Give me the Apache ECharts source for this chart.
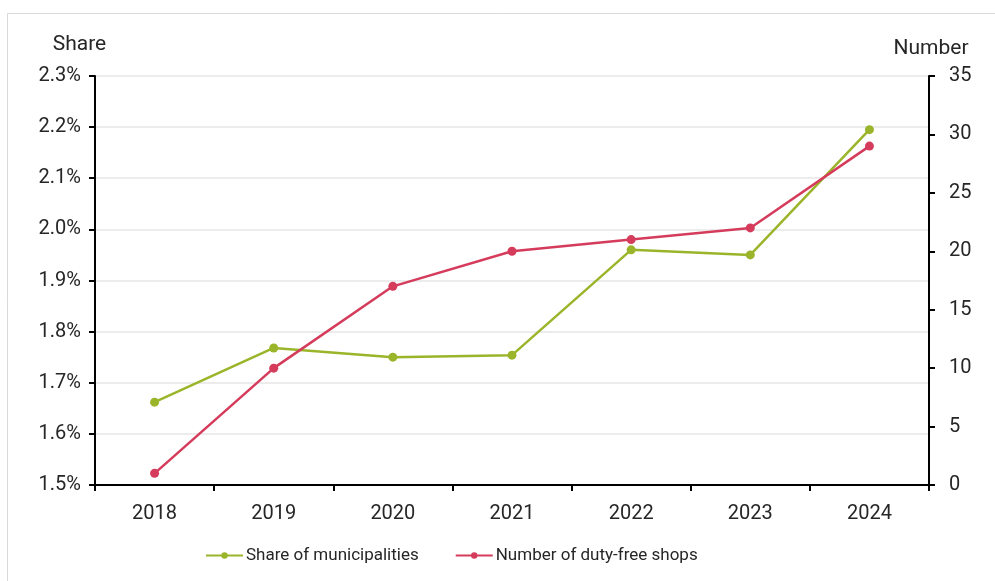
<!DOCTYPE html>
<html>
<head>
<meta charset="utf-8">
<script src="https://cdn.jsdelivr.net/npm/echarts@6/dist/echarts.min.js"></script>
<style>
html,body{margin:0;padding:0;background:#fff;}
#chart{width:995px;height:581px;}
</style>
</head>
<body>
<div id="chart"></div>
<script>
const years = ['2018','2019','2020','2021','2022','2023','2024'];
const shareValues = [1.662, 1.768, 1.750, 1.754, 1.960, 1.950, 2.195];
const shopValues = [1, 10, 17, 20, 21, 22, 29];
const shareName = 'Share of municipalities';
const shopName = 'Number of duty-free shops';

const green = '#9bb52a';
const red = '#d53c5c';
const font = 'Roboto';
const textColor = '#262626';

const chart = echarts.init(document.getElementById('chart'), null, {renderer: 'canvas'});
chart.setOption({
  animation: false,
  backgroundColor: '#fff',
  textStyle: {fontFamily: font},
  graphic: [{
    type: 'polyline',
    shape: {points: [[7.5, 581], [7.5, 13.5], [995, 13.5]]},
    style: {stroke: '#d9d9d9', lineWidth: 1, fill: null},
    silent: true
  }],
  grid: {left: 95, right: 66, top: 76, bottom: 96, containLabel: false},
  legend: {
    bottom: 12,
    left: 200,
    itemGap: 36,
    itemWidth: 37,
    itemHeight: 8,
    textStyle: {fontSize: 17, color: textColor, fontFamily: font, padding: [0, 0, 0, -2]},
    data: [shareName, shopName]
  },
  xAxis: {
    type: 'category',
    data: years,
    boundaryGap: true,
    axisLine: {lineStyle: {color: '#000', width: 2}},
    axisTick: {show: true, inside: false, length: 6, lineStyle: {color: '#000', width: 2}},
    axisLabel: {fontSize: 20, color: textColor, margin: 19, fontFamily: font},
    splitLine: {show: false}
  },
  yAxis: [{
    type: 'value',
    min: 1.5,
    max: 2.3,
    interval: 0.1,
    position: 'left',
    name: 'Share',
    nameLocation: 'end',
    nameGap: 21,
    nameTextStyle: {fontSize: 21, color: textColor, align: 'center', padding: [0, 31, 0, 0], fontFamily: font},
    axisLine: {show: true, lineStyle: {color: '#000', width: 2}},
    axisTick: {show: true, inside: false, length: 6, lineStyle: {color: '#000', width: 2}},
    axisLabel: {fontSize: 20, color: textColor, margin: 14, fontFamily: font,
      formatter: v => v.toFixed(1) + '%'},
    splitLine: {show: true, lineStyle: {color: '#ececec', width: 2}}
  }, {
    type: 'value',
    min: 0,
    max: 35,
    interval: 5,
    position: 'right',
    name: 'Number',
    nameLocation: 'end',
    nameGap: 17,
    nameTextStyle: {fontSize: 21, color: textColor, align: 'center', padding: [0, 0, 0, 4], fontFamily: font},
    axisLine: {show: true, lineStyle: {color: '#000', width: 2}},
    axisTick: {show: true, inside: false, length: 6, lineStyle: {color: '#000', width: 2}},
    axisLabel: {fontSize: 20, color: textColor, margin: 20, fontFamily: font},
    splitLine: {show: false}
  }],
  series: [{
    name: shareName,
    type: 'line',
    yAxisIndex: 0,
    data: shareValues,
    symbol: 'circle',
    symbolSize: 9,
    itemStyle: {color: green},
    lineStyle: {color: green, width: 2.5}
  }, {
    name: shopName,
    type: 'line',
    yAxisIndex: 1,
    data: shopValues,
    symbol: 'circle',
    symbolSize: 9,
    itemStyle: {color: red},
    lineStyle: {color: red, width: 2.5}
  }]
});
</script>
</body>
</html>
